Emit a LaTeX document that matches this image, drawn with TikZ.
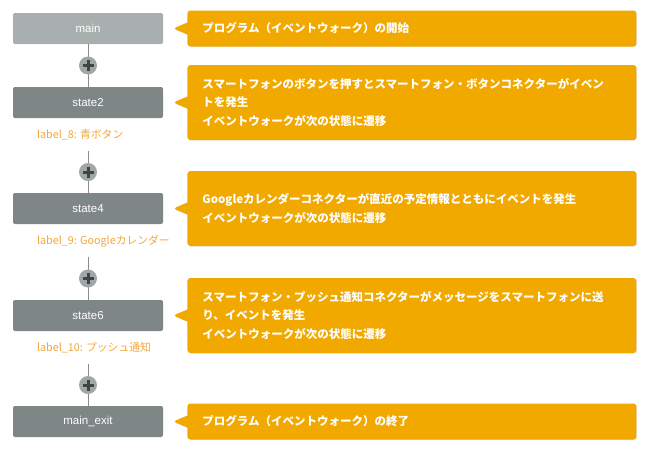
\documentclass[tikz,border=0pt]{standalone}
\usepackage{fontspec}
\setmainfont{Liberation Sans}
\newfontfamily\cjk{Noto Sans CJK JP}
\usetikzlibrary{positioning, shapes.callouts, shadows}
\definecolor{mfill}{HTML}{A9AFAE}
\definecolor{sfill}{HTML}{7E8686}
\definecolor{nfill}{HTML}{F1A900}
\definecolor{lorange}{HTML}{F3A63A}
\definecolor{lgrey}{HTML}{8C8C8C}
\definecolor{pfill}{HTML}{A1A6A6}
\definecolor{pdark}{HTML}{3F4545}

\tikzset{
	statebox/.style={rectangle, rounded corners=2pt, fill=sfill, text=white, minimum width=150pt, minimum height=31pt, inner sep=0pt, font=\fontsize{11.5}{13}\selectfont},
	mainbox/.style={statebox, fill=mfill},
	statelabel/.style={anchor=west, text=lorange, inner sep=0pt, font=\cjk\fontsize{10.8}{12}\selectfont},
	flowline/.style={draw=lgrey, line width=0.8pt},
	plusnode/.style={circle, fill=pfill, minimum size=18pt, inner sep=0pt,
		path picture={\draw[pdark, line width=3pt] ([xshift=-5.5pt]path picture bounding box.center) -- ([xshift=5.5pt]path picture bounding box.center) ([yshift=-5.5pt]path picture bounding box.center) -- ([yshift=5.5pt]path picture bounding box.center);}},
	note/.style={rectangle callout, rounded corners=3pt, fill=nfill, text=white, callout pointer width=12pt, text width=419pt, align=left, inner xsep=15pt, inner ysep=0pt, font=\cjk\bfseries\fontsize{11.5}{18.5}\selectfont, drop shadow={opacity=0.2, shadow xshift=0.6pt, shadow yshift=-0.6pt}}
}

\begin{document}
\begin{tikzpicture}[x=1pt, y=-1pt]
	\useasboundingbox (0, 0) rectangle (650, 455);
	\def\gap{33}

	% states
	\node[mainbox] (main) at (88, 28.5) {main};
	\node[statebox] (state2) at (88, 102.5) {state2};
	\node[statebox] (state4) at (88, 208.5) {state4};
	\node[statebox] (state6) at (88, 315.5) {state6};
	\node[statebox] (mainexit) at (88, 421.5) {main\_exit};

	% labels
	\node[statelabel] (label8) at ([xshift=24pt, yshift=-17pt]state2.south west) {label\_8: 青ボタン};
	\node[statelabel] (label9) at ([xshift=24pt, yshift=-17pt]state4.south west) {label\_9: Googleカレンダー};
	\node[statelabel] (label10) at ([xshift=24pt, yshift=-17pt]state6.south west) {label\_10: プッシュ通知};

	% connectors
	\coordinate (main-out) at (main.south);
	\foreach \s in {2, 4, 6}{
		\coordinate (state\s-out) at ([yshift=-\gap pt]state\s.south);
	}
	\foreach \a/\b/\i in {main-out/state2/1, state2-out/state4/2, state4-out/state6/3, state6-out/mainexit/4}{
		\draw[flowline] (\a) -- (\b.north) node[plusnode, midway] (plus\i) {};
	}

	% notes
	\foreach \s in {main, state2, state4, state6, mainexit}{
		\coordinate (\s-tip) at ([xshift=10pt]\s.east);
	}
	\node[note, right=24pt of main, minimum height=36pt, callout absolute pointer={(main-tip)}] (note-main) {プログラム（イベントウォーク）の開始};
	\node[note, right=24pt of state2, minimum height=75pt, callout absolute pointer={(state2-tip)}] (note-state2) {スマートフォンのボタンを押すとスマートフォン・ボタンコネクターがイベン\\トを発生\\イベントウォークが次の状態に遷移};
	\node[note, right=24pt of state4, minimum height=75pt, callout absolute pointer={(state4-tip)}] (note-state4) {Googleカレンダーコネクターが直近の予定情報とともにイベントを発生\\イベントウォークが次の状態に遷移};
	\node[note, right=24pt of state6, minimum height=75pt, callout absolute pointer={(state6-tip)}] (note-state6) {スマートフォン・プッシュ通知コネクターがメッセージをスマートフォンに送\\り、イベントを発生\\イベントウォークが次の状態に遷移};
	\node[note, right=24pt of mainexit, minimum height=36pt, callout absolute pointer={(mainexit-tip)}] (note-mainexit) {プログラム（イベントウォーク）の終了};
\end{tikzpicture}
\end{document}
